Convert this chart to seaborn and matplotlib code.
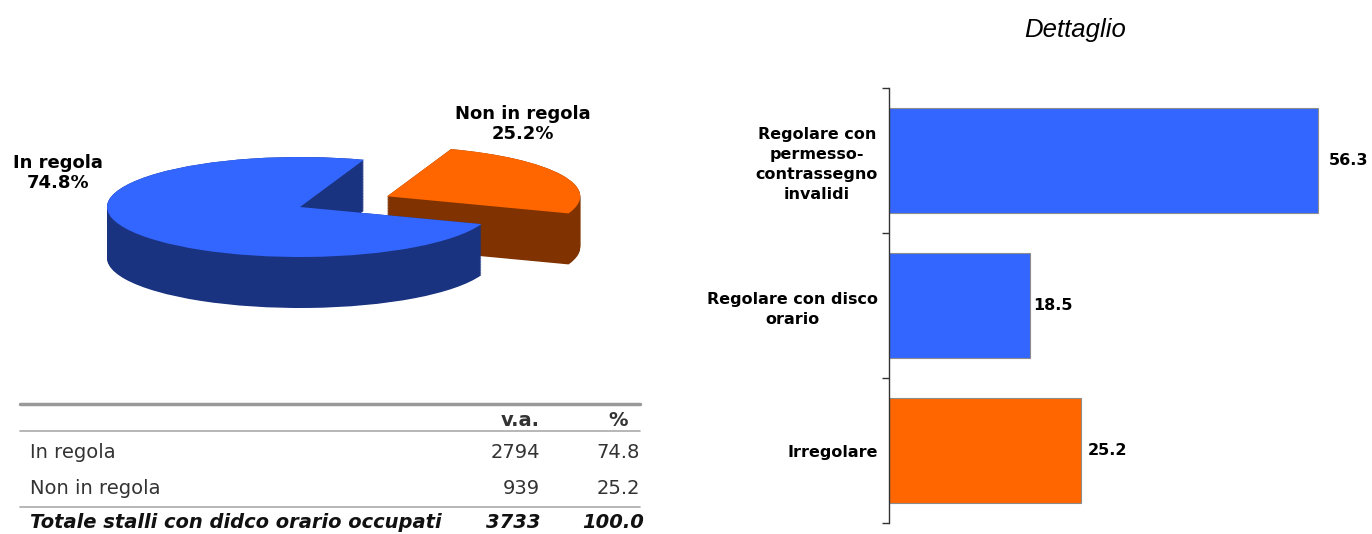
import numpy as np
import matplotlib
matplotlib.use("Agg")
import matplotlib.pyplot as plt
from matplotlib.lines import Line2D
import seaborn as sns

# pie data
pie_labels = ["In regola", "Non in regola"]
pie_values = [74.8, 25.2]

# table data
table_rows = ["In regola", "Non in regola"]
table_va = [2794, 939]
table_pct = [74.8, 25.2]
total_label = "Totale stalli con didco orario occupati"
total_va = 3733
total_pct = 100.0

# bar data
bar_labels = ["Regolare con\npermesso-\ncontrassegno\ninvalidi",
              "Regolare con disco\norario",
              "Irregolare"]
bar_values = [56.3, 18.5, 25.2]

blue_top, blue_side = "#3366FF", "#1A3380"
orange_top, orange_side = "#FF6600", "#803300"
bar_colors = [blue_top, blue_top, orange_top]

sns.set_style("white")
plt.rcParams["font.family"] = ["DejaVu Sans"]

fig = plt.figure(figsize=(13.72, 5.34), dpi=100)

# ---------------- 3D-looking pie ----------------
W, H = 1372, 534
ax1 = fig.add_axes([0, 1 - 360 / H, 686 / W, 300 / H])
start = 70.7
explode = [0, 0.5]
depths = np.linspace(1.02, 0, 70)


def draw_slice(ax, idx, top_color, side_color):
    # extruded side: stack of shifted copies, then the top face
    for d in depths:
        wedges, _ = ax.pie(pie_values, startangle=start, explode=explode,
                           center=(0, -d), colors=[side_color] * 2,
                           wedgeprops=dict(linewidth=0))
        for i, w in enumerate(wedges):
            if i != idx:
                w.remove()
    wedges, _ = ax.pie(pie_values, startangle=start, explode=explode,
                       colors=[top_color] * 2, wedgeprops=dict(linewidth=0))
    for i, w in enumerate(wedges):
        if i != idx:
            w.remove()


draw_slice(ax1, 1, orange_top, orange_side)
draw_slice(ax1, 0, blue_top, blue_side)
ax1.set_aspect("auto")
ax1.set_xlim(-300 / 193, 386 / 193)
ax1.set_ylim((207 - 360) / 50, (207 - 60) / 50)
ax1.axis("off")

fig.text(58 / W, 1 - 173 / H, f"{pie_labels[0]}\n{pie_values[0]}%",
         ha="center", va="center", fontsize=13, fontweight="bold",
         color="black", linespacing=1.2)
fig.text(523 / W, 1 - 124 / H, f"{pie_labels[1]}\n{pie_values[1]}%",
         ha="center", va="center", fontsize=13, fontweight="bold",
         color="black", linespacing=1.2)

# ---------------- table ----------------
tab = fig.add_axes([0, 0, 0.5, 1])
tab.set_xlim(0, 686)
tab.set_ylim(H, 0)
tab.axis("off")
tab.add_line(Line2D([20, 640], [404, 404], color="#999999", lw=2.5))
tab.add_line(Line2D([20, 640], [431, 431], color="#aaaaaa", lw=1.2))
tab.add_line(Line2D([20, 640], [507, 507], color="#aaaaaa", lw=1.2))
txt = dict(fontsize=14, color="#333333", va="center")
tab.text(540, 420, "v.a.", ha="right", fontweight="bold", **txt)
tab.text(628, 420, "%", ha="right", fontweight="bold", **txt)
for k, (lab, va, pct) in enumerate(zip(table_rows, table_va, table_pct)):
    y = 452 + 37 * k
    tab.text(30, y, lab, ha="left", **txt)
    tab.text(540, y, f"{va}", ha="right", **txt)
    tab.text(640, y, f"{pct:.1f}", ha="right", **txt)
tot = dict(fontsize=14, color="#111111", va="center", fontweight="bold",
           style="italic")
tab.text(30, 523, total_label, ha="left", **tot)
tab.text(540, 523, f"{total_va}", ha="right", **tot)
tab.text(644, 523, f"{total_pct:.1f}", ha="right", **tot)

# ---------------- bar chart ----------------
ax2 = fig.add_axes([889 / W, 11 / H, 1 - 889 / W, 435 / H])
sns.barplot(x=bar_values, y=bar_labels, hue=bar_labels, palette=bar_colors,
            orient="h", width=0.72, saturation=1, edgecolor="#8c8c8c",
            linewidth=0.8, legend=False, ax=ax2)
ax2.set_xlim(0, 63.4)
ax2.set_ylim(2.5, -0.5)
for cont, pad in zip(ax2.containers, [8, 2, 5]):
    ax2.bar_label(cont, fmt="%.1f", padding=pad, fontsize=11.5,
                  fontweight="bold", color="black")
ax2.set_yticks(range(len(bar_labels)))
ax2.set_yticklabels(bar_labels, multialignment="center", fontsize=11.5,
                    fontweight="bold", color="black", linespacing=1.4)
ax2.set_yticks([-0.5, 0.5, 1.5, 2.5], minor=True)
ax2.tick_params(axis="y", which="major", length=0, pad=8)
ax2.tick_params(axis="y", which="minor", length=5, width=1, color="#333333",
                direction="out", left=True)
ax2.set_xticks([])
ax2.set_xlabel("")
ax2.set_ylabel("")
for s in ["top", "right", "bottom"]:
    ax2.spines[s].set_visible(False)
ax2.spines["left"].set_color("#333333")
ax2.spines["left"].set_linewidth(1)

fig.text(1075 / W, 1 - 30 / H, "Dettaglio", ha="center", va="center",
         fontsize=18.5, style="italic", family="Liberation Sans",
         color="black")

fig.savefig("out.png", dpi=100)
